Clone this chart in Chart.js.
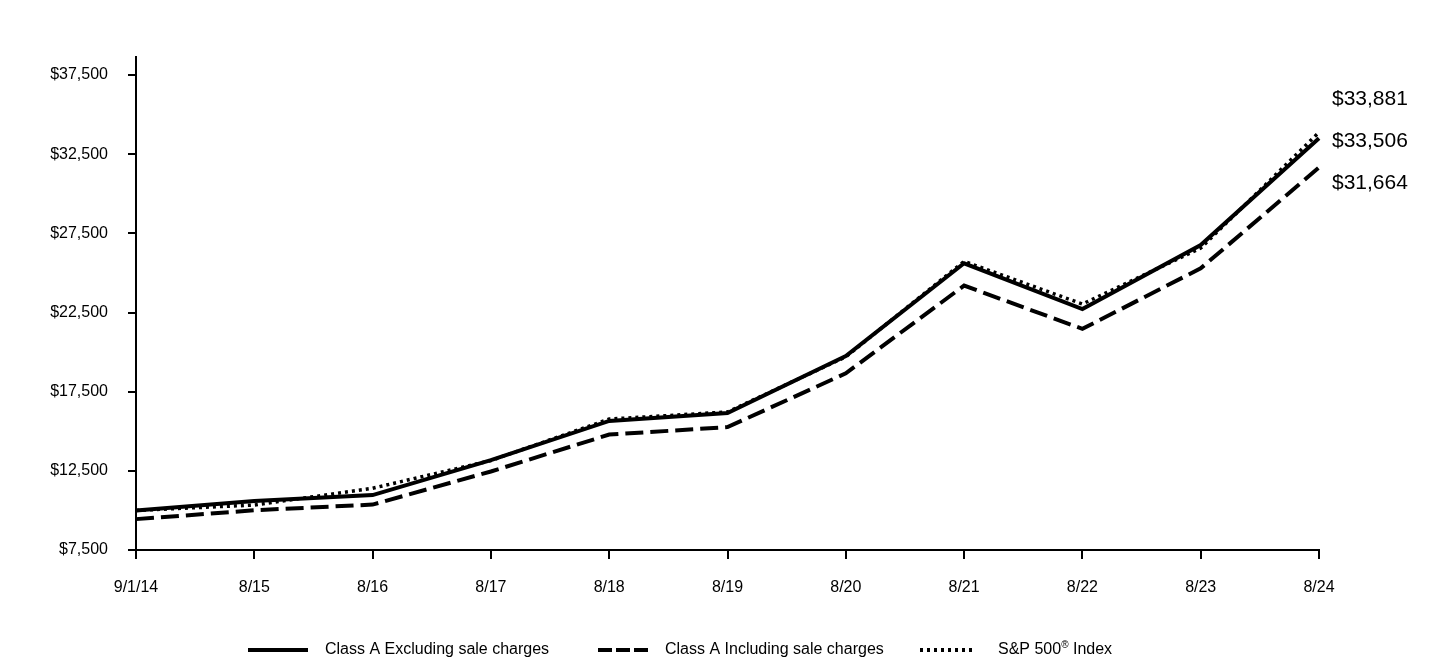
<!DOCTYPE html>
<html>
<head>
<meta charset="utf-8">
<script src="https://cdn.jsdelivr.net/npm/chart.js@4.4.1/dist/chart.umd.min.js"></script>
<style>
  html, body { margin: 0; padding: 0; background: #fff; }
  #wrap { width: 1440px; height: 660px; }
</style>
</head>
<body>
<div id="wrap"><canvas id="growthChart"></canvas></div>
<script>
const labels = ['9/1/14', '8/15', '8/16', '8/17', '8/18', '8/19', '8/20', '8/21', '8/22', '8/23', '8/24'];
const classAExcl = [10000, 10590, 10970, 13180, 15650, 16150, 19750, 25610, 22720, 26760, 33506];
const classAIncl = [9450, 10010, 10370, 12460, 14790, 15260, 18660, 24200, 21470, 25290, 31664];
const sp500 = [10000, 10340, 11400, 13150, 15770, 16220, 19700, 25730, 23040, 26570, 33881];
const yTicks = [7500, 12500, 17500, 22500, 27500, 32500, 37500];

const FONT = '"Liberation Sans", Arial, sans-serif';

function money(v) {
    return '$' + v.toLocaleString('en-US');
}

// end-of-line value labels on the right
const endLabels = {
    id: 'endLabels',
    afterDatasetsDraw(chart) {
        const ctx = chart.ctx;
        const y = chart.scales.y;
        const x = chart.chartArea.right + 13;
        const mid = y.getPixelForValue(classAExcl[classAExcl.length - 1]) + 3;
        ctx.save();
        ctx.fillStyle = '#000';
        ctx.font = '21px ' + FONT;
        ctx.textBaseline = 'middle';
        ctx.fillText(money(sp500[sp500.length - 1]), x, mid - 42);
        ctx.fillText(money(classAExcl[classAExcl.length - 1]), x, mid);
        ctx.fillText(money(classAIncl[classAIncl.length - 1]), x, mid + 42);
        ctx.restore();
    }
};

// legend drawn along the bottom
const bottomLegend = {
    id: 'bottomLegend',
    afterDraw(chart) {
        const ctx = chart.ctx;
        const cy = 650;
        const items = [
            { x1: 248, x2: 308, tx: 325, dash: [], w: 4, text: 'Class A Excluding sale charges' },
            { x1: 598, x2: 648, tx: 665, dash: [14, 4], w: 4, text: 'Class A Including sale charges' },
            { x1: 920, x2: 975, tx: 998, dash: [3, 4], w: 4, text: 'S&P 500', sup: '®', rest: ' Index' }
        ];
        ctx.save();
        ctx.strokeStyle = '#000';
        ctx.fillStyle = '#000';
        ctx.textBaseline = 'middle';
        items.forEach(it => {
            ctx.beginPath();
            ctx.lineWidth = it.w;
            ctx.setLineDash(it.dash);
            ctx.moveTo(it.x1, cy);
            ctx.lineTo(it.x2, cy);
            ctx.stroke();
            ctx.font = '16px ' + FONT;
            ctx.fillText(it.text, it.tx, cy);
            if (it.sup) {
                let xx = it.tx + ctx.measureText(it.text).width;
                ctx.font = '10px ' + FONT;
                ctx.fillText(it.sup, xx, cy - 5);
                xx += ctx.measureText(it.sup).width;
                ctx.font = '16px ' + FONT;
                ctx.fillText(it.rest, xx, cy);
            }
        });
        ctx.restore();
    }
};

new Chart(document.getElementById('growthChart'), {
    type: 'line',
    data: {
        labels: labels,
        datasets: [
            {
                label: 'Class A Including sale charges',
                data: classAIncl,
                borderColor: '#000',
                borderWidth: 4,
                borderDash: [18, 7],
                pointRadius: 0,
                tension: 0
            },
            {
                label: 'Class A Excluding sale charges',
                data: classAExcl,
                borderColor: '#000',
                borderWidth: 4,
                pointRadius: 0,
                tension: 0
            },
            {
                label: 'S&P 500® Index',
                data: sp500,
                borderColor: '#000',
                borderWidth: 3.5,
                borderDash: [3, 4],
                pointRadius: 0,
                tension: 0
            }
        ]
    },
    options: {
        responsive: true,
        maintainAspectRatio: false,
        animation: false,
        layout: { padding: { left: 0, right: 121, top: 57, bottom: 50 } },
        plugins: {
            legend: { display: false },
            tooltip: { enabled: false }
        },
        scales: {
            x: {
                offset: false,
                grid: { drawOnChartArea: false, drawTicks: true, tickLength: 9, color: '#000', lineWidth: 2 },
                border: { display: true, color: '#000', width: 2 },
                ticks: { color: '#000', font: { family: FONT, size: 16 }, padding: 19, maxRotation: 0, autoSkip: false },
                afterFit(s) { s.height = 60; }
            },
            y: {
                min: 7500,
                max: 38640,
                afterBuildTicks(s) { s.ticks = yTicks.map(v => ({ value: v })); },
                grid: { drawOnChartArea: false, drawTicks: true, tickLength: 8, color: '#000', lineWidth: 2 },
                border: { display: true, color: '#000', width: 2 },
                ticks: { color: '#000', font: { family: FONT, size: 16 }, padding: 20, callback: v => money(v) },
                afterFit(s) { s.width = 136; }
            }
        }
    },
    plugins: [endLabels, bottomLegend]
});
</script>
</body>
</html>
